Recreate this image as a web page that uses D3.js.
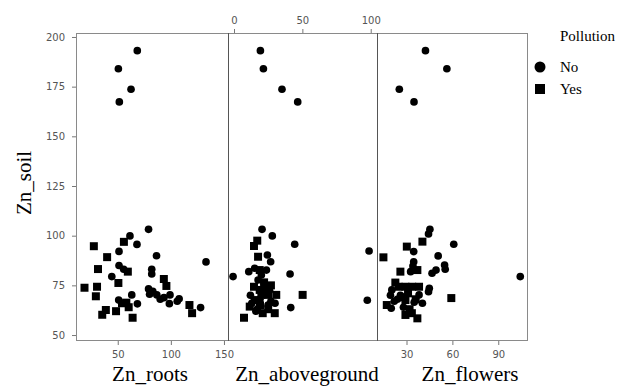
<!DOCTYPE html>
<html>
<head>
<meta charset="utf-8">
<script src="https://cdn.jsdelivr.net/npm/d3@7"></script>
<style>
	body { margin: 0; background: #fff; }
	.tick text { font-family: 'DejaVu Sans', sans-serif; font-size: 10px; fill: #555; }
	.tick line { stroke: #777; }
	.domain { display: none; }
	.title { font-family: 'Liberation Serif', 'Times New Roman', serif; fill: #000; }
</style>
</head>
<body>
<svg id="chart" width="631" height="392"></svg>
<script>
// [x, Zn_soil] pairs
const rootsNo = [
	[68.4, 193.1], [50.6, 184], [62.5, 173.7], [51.5, 167.3],
	[61.5, 99.9], [79, 103.2], [51.2, 92.1], [68.1, 95.6], [86.5, 89.9], [51.2, 85],
	[55.6, 83.1], [44.4, 79.4], [82, 83.1], [82, 80.7], [63.2, 70.2], [50.9, 67.6],
	[68.5, 65.7], [79, 73.2], [80, 70.5], [83, 72], [86.8, 70.2], [90, 68],
	[93.5, 68.8], [99.2, 70.2], [98.6, 65.8], [107.8, 68.2], [106, 67], [128, 63.8],
	[133.1, 86.8]
];
const rootsYes = [
	[27.5, 94.7], [55.8, 96.9], [40, 89.2], [31.4, 83.2], [59.5, 81.9], [18.7, 73.8],
	[30.5, 74.3], [29.4, 69.5], [50.6, 76.2], [38.8, 62.6], [35.4, 60.2], [48.4, 62],
	[54, 66], [58.1, 66.3], [60.3, 64], [64, 58.7], [93.4, 78.2], [95.8, 74.7],
	[117.5, 65.1], [120, 61]
];
const abovegroundNo = [
	[19.3, 193.1], [21.5, 184], [35.1, 173.7], [46.6, 167.3],
	[20.5, 103.2], [28, 99.9], [44.4, 95.7], [24.4, 90.3], [26.8, 86.9], [-0.7, 79.4],
	[41, 80.7], [10.8, 81.9], [15.1, 83.6], [23.7, 82.7], [20, 80.2], [17.6, 77.7],
	[24.9, 65.1], [41.5, 63.8], [98.8, 92.3], [97.5, 67.5], [13, 66], [17, 63],
	[27, 67], [22, 76], [26, 72.5], [12, 70], [16, 62], [30, 66], [19, 68]
];
const abovegroundYes = [
	[17, 97.5], [14.6, 94.8], [17.6, 89.4], [18.8, 82.7], [14.6, 74.3], [18.8, 72.7],
	[23.7, 73.5], [20, 70.2], [24.9, 70.2], [30.9, 70.2], [15.1, 67.6], [11.5, 64.3],
	[21, 61], [7.3, 58.7], [29.8, 61], [50.2, 70.2], [22, 76.5], [27, 75], [19, 65],
	[25, 63]
];
const flowersNo = [
	[42.4, 193.1], [56.4, 184], [25.3, 173.7], [34.9, 167.3],
	[45.3, 103.2], [44.4, 100.9], [34.7, 92], [60.9, 95.7], [50.7, 89.8], [34.7, 86.9],
	[34.2, 84.7], [32.7, 81.9], [54.9, 85.2], [55.3, 83.1], [49.3, 82.7], [46.7, 81.1],
	[44.9, 73.5], [44.4, 71.8], [40.4, 66], [104.4, 79.4], [20.4, 72.7], [19.5, 70],
	[20, 63.5], [22, 67], [38.2, 70.2], [35, 66.5], [26, 70], [24, 68], [28, 64]
];
const flowersYes = [
	[40.4, 97], [30.2, 94.5], [14.9, 89.1], [37.1, 82.7], [26, 81.9], [59.3, 68.6],
	[37.1, 58.4], [29.3, 60.1], [22.7, 76.4], [17.1, 65.1], [24.9, 74.3], [29.3, 74.3],
	[33.7, 74.3], [38.2, 74.3], [29.3, 67.6], [32, 63], [33.5, 61], [27, 69], [31, 71],
	[36, 68]
];
const soilTicks = [50, 75, 100, 125, 150, 175, 200];
const pollution = ['No', 'Yes'];

const svg = d3.select('#chart');
const plotTop = 33;
const plotBottom = 340;

const y = d3.scaleLinear().domain([47.5, 202]).range([plotBottom, plotTop]);

const panels = [
	{ name: 'Zn_roots', no: rootsNo, yes: rootsYes, domain: [10.7, 153.8], range: [76, 228], ticks: [50, 100, 150], side: 'bottom', titleX: 150 },
	{ name: 'Zn_aboveground', no: abovegroundNo, yes: abovegroundYes, domain: [-4.4, 104.6], range: [228, 377], ticks: [0, 50, 100], side: 'top', titleX: 307 },
	{ name: 'Zn_flowers', no: flowersNo, yes: flowersYes, domain: [10.7, 108.8], range: [377, 527], ticks: [30, 60, 90], side: 'bottom', titleX: 470 }
];

const circle = d3.symbol().type(d3.symbolCircle).size(46);
const square = d3.symbol().type(d3.symbolSquare).size(64);

// outer frame, lighter than the panel dividers
svg.append('rect')
	.attr('x', 76.5)
	.attr('y', plotTop + 0.5)
	.attr('width', 527 - 76)
	.attr('height', plotBottom - plotTop)
	.attr('fill', 'none')
	.attr('stroke', '#8a8a8a');

panels.forEach((p, i) => {
	const x = d3.scaleLinear().domain(p.domain).range(p.range);

	const axis = p.side === 'top'
		? d3.axisTop(x).tickValues(p.ticks).tickSize(4).tickPadding(5)
		: d3.axisBottom(x).tickValues(p.ticks).tickSize(4).tickPadding(6);

	svg.append('g')
		.attr('transform', `translate(0,${p.side === 'top' ? plotTop : plotBottom + 1})`)
		.call(axis);

	if (i > 0) {
		svg.append('line')
			.attr('x1', p.range[0] + 0.5)
			.attr('x2', p.range[0] + 0.5)
			.attr('y1', plotTop)
			.attr('y2', plotBottom + 1)
			.attr('stroke', '#555');
	}

	const g = svg.append('g');

	g.selectAll('.no')
		.data(p.no)
		.enter()
		.append('path')
		.attr('d', circle)
		.attr('transform', d => `translate(${x(d[0])},${y(d[1])})`)
		.attr('fill', '#000');

	g.selectAll('.yes')
		.data(p.yes)
		.enter()
		.append('path')
		.attr('d', square)
		.attr('transform', d => `translate(${x(d[0])},${y(d[1])})`)
		.attr('fill', '#000');

	svg.append('text')
		.attr('class', 'title')
		.attr('x', p.titleX)
		.attr('y', 381)
		.attr('text-anchor', 'middle')
		.attr('font-size', 21)
		.text(p.name);
});

svg.append('g')
	.attr('transform', 'translate(76,0)')
	.call(d3.axisLeft(y).tickValues(soilTicks).tickSize(4).tickPadding(7));

svg.append('text')
	.attr('class', 'title')
	.attr('transform', 'translate(31,183) rotate(-90)')
	.attr('text-anchor', 'middle')
	.attr('font-size', 21)
	.text('Zn_soil');

// legend
const legend = svg.append('g').attr('transform', 'translate(540,0)');

legend.append('text')
	.attr('class', 'title')
	.attr('x', 20)
	.attr('y', 41)
	.attr('font-size', 15)
	.text('Pollution');

const shapes = [d3.symbol().type(d3.symbolCircle).size(95), d3.symbol().type(d3.symbolSquare).size(100)];

pollution.forEach((label, i) => {
	const cy = 67 + i * 22;
	legend.append('path')
		.attr('d', shapes[i])
		.attr('transform', `translate(0,${cy})`)
		.attr('fill', '#000');
	legend.append('text')
		.attr('class', 'title')
		.attr('x', 20)
		.attr('y', cy + 5)
		.attr('font-size', 15)
		.text(label);
});
</script>
</body>
</html>
